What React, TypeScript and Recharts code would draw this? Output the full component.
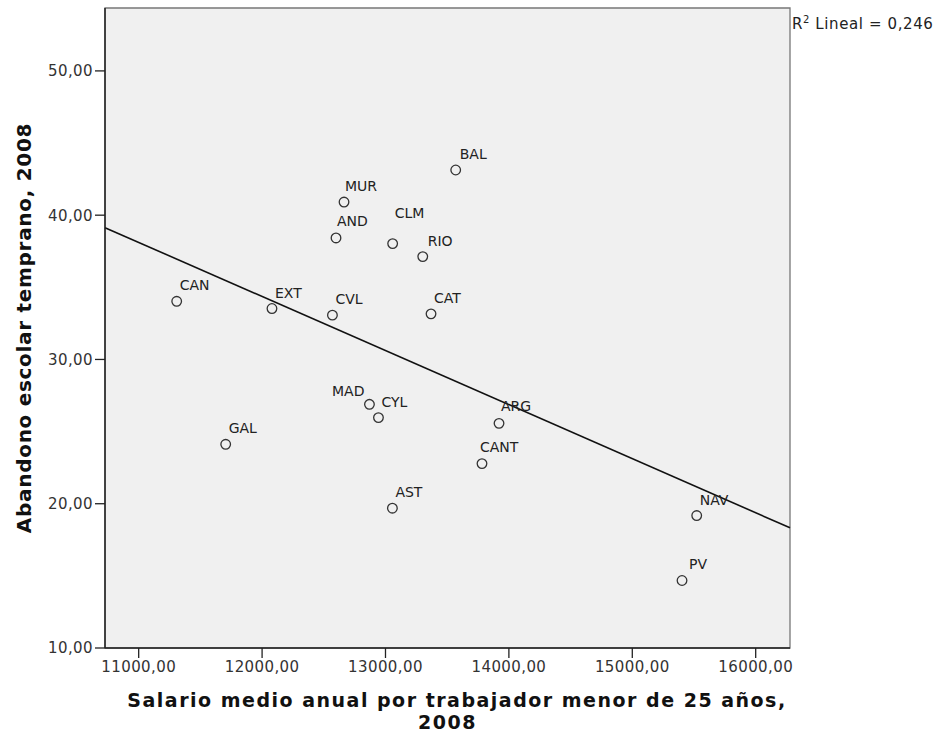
import React from "react";
import {
  ScatterChart,
  Scatter,
  XAxis,
  YAxis,
  ReferenceArea,
  ReferenceLine,
} from "recharts";

// Comunidades autónomas, 2008
const REGIONS = ["CAN", "EXT", "CVL", "MUR", "AND", "CLM", "RIO", "CAT", "BAL", "MAD", "CYL", "ARG", "CANT", "AST", "GAL", "NAV", "PV"];
const SALARIO = [11308, 12080, 12570, 12664, 12599, 13058, 13302, 13369, 13569, 12870, 12943, 13920, 13782, 13056, 11705, 15522, 15403];
const ABANDONO = [34.03, 33.53, 33.07, 40.91, 38.42, 38.03, 37.13, 33.16, 43.13, 26.89, 25.97, 25.57, 22.78, 19.69, 24.12, 19.18, 14.68];

const X_TICKS = [11000, 12000, 13000, 14000, 15000, 16000];
const Y_TICKS = [10, 20, 30, 40, 50];
const X_DOMAIN: [number, number] = [10727, 16278];
const Y_DOMAIN: [number, number] = [10, 54.36];

const FONT = "DejaVu Sans";

// posición de las etiquetas respecto al punto (dx, dy, anchor)
const LABEL_NUDGE: Record<string, [number, number, string?]> = {
  CLM: [2, -26],
  MAD: [-5, -8, "end"],
  RIO: [5, -11],
  PV: [7, -11],
  CANT: [-2, -12],
  MUR: [1, -11],
  AND: [1, -12],
  ARG: [2, -12],
  BAL: [4, -11],
};

const points = REGIONS.map((name, i) => ({ name, x: SALARIO[i], y: ABANDONO[i] }));

// ajuste lineal por mínimos cuadrados
const n = points.length;
const mx = points.reduce((s, p) => s + p.x, 0) / n;
const my = points.reduce((s, p) => s + p.y, 0) / n;
const sxy = points.reduce((s, p) => s + (p.x - mx) * (p.y - my), 0);
const sxx = points.reduce((s, p) => s + (p.x - mx) ** 2, 0);
const syy = points.reduce((s, p) => s + (p.y - my) ** 2, 0);
const slope = sxy / sxx;
const fit = (x: number) => my + slope * (x - mx);
const r2 = (sxy * sxy) / (sxx * syy);

const fmt = (v: number) => v.toFixed(2).replace(".", ",");

function Marker(props: any) {
  const { cx, cy, payload } = props;
  const [dx, dy, anchor] = LABEL_NUDGE[payload.name] ?? [3, -11];
  return (
    <g>
      <circle cx={cx} cy={cy} r={4.8} fill="none" stroke="#333" strokeWidth={1.3} />
      <text x={cx + dx} y={cy + dy} textAnchor={anchor ?? "start"} fontSize={14} fontFamily={FONT} fill="#222">
        {payload.name}
      </text>
    </g>
  );
}

function YTitle({ viewBox }: any) {
  const x = viewBox.x + 24;
  const y = viewBox.y + viewBox.height / 2;
  return (
    <text
      x={x}
      y={y}
      transform={`rotate(-90 ${x} ${y})`}
      textAnchor="middle"
      dominantBaseline="central"
      fontSize={20}
      fontWeight="bold"
      letterSpacing={0.7}
      fontFamily={FONT}
      fill="#111"
    >
      Abandono escolar temprano, 2008
    </text>
  );
}

function XTitle({ viewBox }: any) {
  const cx = viewBox.x + viewBox.width / 2;
  return (
    <text textAnchor="middle" fontSize={19} fontWeight="bold" letterSpacing={1.5} fontFamily={FONT} fill="#111">
      <tspan x={cx + 9.5} y={707}>Salario medio anual por trabajador menor de 25 años,</tspan>
      <tspan x={cx} y={729}>2008</tspan>
    </text>
  );
}

export default function App() {
  const tick = { fill: "#333", fontSize: 15, fontFamily: FONT, letterSpacing: 0.4 };
  return (
    <div style={{ position: "absolute", left: 0, top: 0, width: 934, height: 735, background: "#fff", fontFamily: FONT }}>
      <ScatterChart width={934} height={735} margin={{ top: 8, right: 144, bottom: 0, left: 0 }}>
        <ReferenceArea
          x1={X_DOMAIN[0]}
          x2={X_DOMAIN[1]}
          y1={Y_DOMAIN[0]}
          y2={Y_DOMAIN[1]}
          fill="#f0f0f0"
          fillOpacity={1}
          stroke="#777"
          strokeWidth={1.3}
        />
        <XAxis
          type="number"
          dataKey="x"
          domain={X_DOMAIN}
          allowDataOverflow
          ticks={X_TICKS}
          tickFormatter={fmt}
          tick={tick}
          tickSize={10}
          tickMargin={3}
          height={87}
          axisLine={{ stroke: "#222", strokeWidth: 1.5 }}
          tickLine={{ stroke: "#222", strokeWidth: 1.3 }}
          label={<XTitle />}
        />
        <YAxis
          type="number"
          dataKey="y"
          domain={Y_DOMAIN}
          allowDataOverflow
          ticks={Y_TICKS}
          tickFormatter={fmt}
          tick={tick}
          tickSize={10}
          tickMargin={2}
          width={105}
          axisLine={{ stroke: "#222", strokeWidth: 1.5 }}
          tickLine={{ stroke: "#222", strokeWidth: 1.3 }}
          label={<YTitle />}
        />
        <ReferenceLine
          segment={[
            { x: X_DOMAIN[0], y: fit(X_DOMAIN[0]) },
            { x: X_DOMAIN[1], y: fit(X_DOMAIN[1]) },
          ]}
          stroke="#111"
          strokeWidth={1.6}
        />
        <Scatter data={points} shape={<Marker />} isAnimationActive={false} />
      </ScatterChart>
      <div style={{ position: "absolute", left: 792, top: 11, fontSize: 15, letterSpacing: 0.6, color: "#222", whiteSpace: "nowrap", lineHeight: "17px" }}>
        R<sup style={{ fontSize: 10 }}>2</sup> Lineal = {r2.toFixed(3).replace(".", ",")}
      </div>
    </div>
  );
}
